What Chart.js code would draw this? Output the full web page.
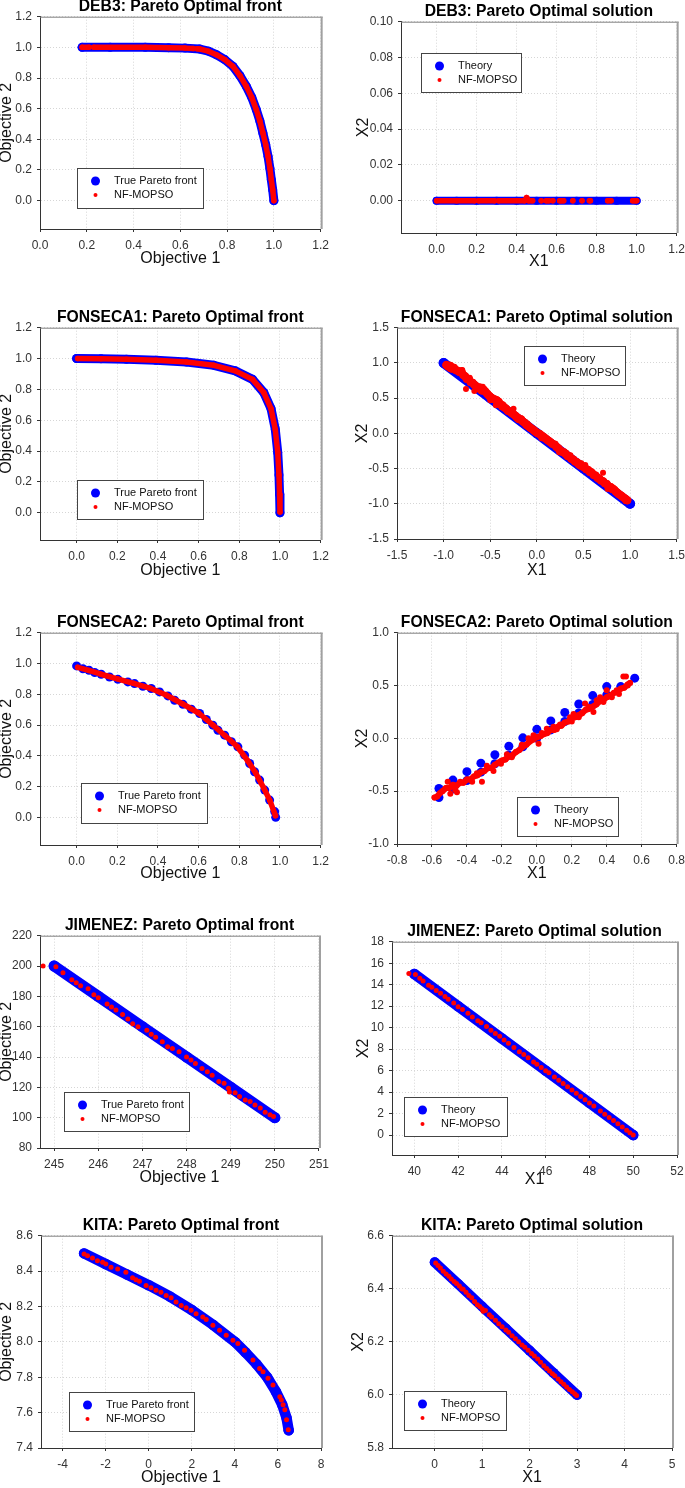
<!DOCTYPE html>
<html>
<head>
<meta charset="utf-8">
<script src="https://cdn.jsdelivr.net/npm/chart.js@4.4.0/dist/chart.umd.min.js"></script>
<style>
  body { margin: 0; background: #fff; }
  #page { position: relative; width: 685px; height: 1488px; overflow: hidden; background: #fff; }
  #page canvas { position: absolute; }
</style>
</head>
<body>
<div id="page"></div>
<script>
// ---- values ----
const deb3FrontTrue = [[0.18,1.0],[0.3,1.0],[0.45,1.0],[0.55,0.998],[0.62,0.995],[0.683,0.989],[0.72,0.975],[0.754,0.952],[0.79,0.92],[0.825,0.876],[0.855,0.815],[0.882,0.746],[0.905,0.675],[0.925,0.593],[0.94,0.52],[0.953,0.441],[0.965,0.365],[0.975,0.289],[0.983,0.21],[0.989,0.137],[0.995,0.07],[1.0,0.0]];
const deb3FrontNf = [[0.18,1.0],[0.21,1.0],[0.22,null],[0.23,1.0],[0.45,1.0],[0.55,0.998],[0.62,0.995],[0.655,0.992],[0.662,null],[0.672,0.991],[0.683,0.989],[0.72,0.975],[0.754,0.952],[0.79,0.92],[0.825,0.876],[0.855,0.815],[0.882,0.746],[0.905,0.675],[0.925,0.593],[0.94,0.52],[0.953,0.441],[0.965,0.365],[0.975,0.289],[0.983,0.21],[0.989,0.137],[0.995,0.07],[1.0,0.0]];

const deb3SolTheory = [[0,0],[0.1,0],[0.2,0],[0.3,0],[0.4,0],[0.5,0],[0.6,0],[0.7,0],[0.8,0],[0.9,0],[1.0,0]];
const deb3SolNf = [[0,0],[0.1,0],[0.19,0],[0.2,null],[0.21,0],[0.29,0],[0.3,null],[0.31,0],[0.44,0],[0.45,0.0018],[0.46,0],[0.48,0],[0.5,null],[0.523,0],[0.53,null],[0.548,0],[0.561,0],[0.57,null],[0.581,0],[0.6,null],[0.615,0],[0.623,0],[0.635,0],[0.65,null],[0.681,0],[0.7,null],[0.727,0],[0.74,null],[0.764,0],[0.769,0],[0.8,null],[0.855,0],[0.872,0],[0.9,null],[0.98,0],[0.992,0],[1.0,0]];

const fon1FrontTrue = [[0,1.0],[0.12,0.998],[0.245,0.995],[0.39,0.989],[0.54,0.977],[0.675,0.956],[0.78,0.92],[0.865,0.865],[0.92,0.78],[0.956,0.675],[0.977,0.54],[0.989,0.39],[0.995,0.245],[0.998,0.12],[1.0,0.0]];
const fon1FrontNf = [[0.005,1.0],[0.12,0.998],[0.245,0.995],[0.39,0.989],[0.54,0.977],[0.675,0.956],[0.78,0.92],[0.865,0.865],[0.92,0.78],[0.956,0.675],[0.977,0.54],[0.989,0.39],[0.995,0.245],[0.998,0.12],[1.0,0.005]];

const fon1SolTheory = [[-1,1],[-0.5,0.5],[0,0],[0.5,-0.5],[1,-1]];
const fon1SolNf = [[-0.97,0.97],[-0.95,0.95],[-0.93,0.96],[-0.91,0.92],[-0.89,0.93],[-0.87,0.9],[-0.85,0.89],[-0.83,0.87],[-0.81,0.88],[-0.79,0.83],[-0.77,0.81],[-0.75,0.77],[-0.73,0.77],[-0.71,0.73],[-0.69,0.72],[-0.67,0.69],[-0.65,0.67],[-0.63,0.64],[-0.61,0.65],[-0.59,0.61],[-0.57,0.62],[-0.55,0.59],[-0.53,0.56],[-0.51,0.53],[-0.49,0.51],[-0.47,0.49],[-0.45,0.48],[-0.43,0.47],[-0.41,0.45],[-0.39,0.41],[-0.37,0.4],[-0.35,0.37],[-0.33,0.35],[-0.31,0.32],[-0.29,0.31],[-0.27,0.29],[-0.25,0.27],[-0.23,0.25],[-0.21,0.22],[-0.19,0.2],[-0.17,0.2],[-0.15,0.17],[-0.13,0.15],[-0.11,0.12],[-0.09,0.1],[-0.07,0.08],[-0.05,0.06],[-0.03,0.04],[-0.01,0.02],[0.01,0.0],[0.03,-0.01],[0.05,-0.03],[0.07,-0.05],[0.09,-0.07],[0.11,-0.09],[0.13,-0.11],[0.15,-0.13],[0.17,-0.15],[0.19,-0.16],[0.21,-0.19],[0.23,-0.21],[0.25,-0.24],[0.27,-0.26],[0.29,-0.27],[0.31,-0.29],[0.33,-0.32],[0.35,-0.33],[0.37,-0.36],[0.39,-0.37],[0.41,-0.4],[0.43,-0.41],[0.45,-0.44],[0.47,-0.44],[0.49,-0.47],[0.51,-0.48],[0.53,-0.51],[0.55,-0.52],[0.57,-0.55],[0.59,-0.56],[0.61,-0.59],[0.63,-0.6],[0.65,-0.63],[0.67,-0.64],[0.69,-0.67],[0.71,-0.68],[0.73,-0.71],[0.75,-0.72],[0.77,-0.76],[0.79,-0.76],[0.81,-0.79],[0.83,-0.8],[0.85,-0.83],[0.87,-0.85],[0.89,-0.87],[0.91,-0.89],[0.93,-0.91],[0.95,-0.93],[0.97,-0.95]];
const fon1SolNfScatter = [[-0.93,0.91],[-0.8,0.9],[-0.76,0.63],[-0.72,0.79],[-0.67,0.6],[-0.6,0.6],[-0.58,0.66],[-0.5,0.47],[-0.44,0.4],[-0.38,0.37],[-0.25,0.35],[-0.2,0.24],[-0.1,0.14],[0.05,-0.07],[0.2,-0.15],[0.24,-0.27],[0.3,-0.3],[0.36,-0.31],[0.46,-0.47],[0.52,-0.45],[0.58,-0.53],[0.66,-0.66],[0.71,-0.56],[0.76,-0.79],[0.82,-0.77],[0.88,-0.88],[0.95,-0.96]];

const fon2FrontTrue = [[0,0.984],[0.031,0.966],[0.061,0.956],[0.089,0.941],[0.121,0.93],[0.162,0.912],[0.203,0.897],[0.252,0.88],[0.285,0.869],[0.326,0.852],[0.367,0.837],[0.408,0.815],[0.449,0.789],[0.482,0.761],[0.523,0.735],[0.564,0.703],[0.605,0.675],[0.638,0.636],[0.67,0.599],[0.695,0.566],[0.728,0.534],[0.761,0.491],[0.793,0.458],[0.826,0.404],[0.851,0.35],[0.875,0.296],[0.9,0.242],[0.925,0.177],[0.949,0.112],[0.974,0.037],[0.979,0.0]];
const fon2FrontNf = [[0.005,0.975],[0.06,0.955],[0.12,0.93],[0.2,0.9],[0.28,0.871],[0.36,0.84],[0.44,0.795],[0.52,0.738],[0.6,0.678],[0.67,0.6],[0.73,0.53],[0.79,0.46],[0.84,0.37],[0.88,0.29],[0.92,0.19],[0.95,0.11],[0.978,0.01]];

const fon2SolTheory = [[-0.56,-0.56],[-0.56,-0.475],[-0.48,-0.48],[-0.48,-0.395],[-0.4,-0.4],[-0.4,-0.315],[-0.32,-0.32],[-0.32,-0.235],[-0.24,-0.24],[-0.24,-0.155],[-0.16,-0.16],[-0.16,-0.075],[-0.08,-0.08],[-0.08,0.005],[0,0],[0,0.085],[0.08,0.08],[0.08,0.165],[0.16,0.16],[0.16,0.245],[0.24,0.24],[0.24,0.325],[0.32,0.32],[0.32,0.405],[0.4,0.41],[0.4,0.49],[0.48,0.49],[0.56,0.57]];
const fon2SolNf = [[-0.585,-0.56],[-0.57,-0.55],[-0.555,-0.52],[-0.54,-0.5],[-0.52,-0.47],[-0.5,-0.47],[-0.48,-0.44],[-0.46,-0.45],[-0.44,-0.42],[-0.42,-0.42],[-0.4,-0.39],[-0.38,-0.39],[-0.36,-0.36],[-0.34,-0.35],[-0.32,-0.32],[-0.3,-0.31],[-0.28,-0.28],[-0.26,-0.28],[-0.24,-0.25],[-0.22,-0.23],[-0.2,-0.21],[-0.18,-0.2],[-0.16,-0.17],[-0.14,-0.16],[-0.12,-0.13],[-0.1,-0.11],[-0.08,-0.08],[-0.06,-0.06],[-0.04,-0.03],[-0.02,-0.01],[0,0.01],[0.02,0.02],[0.04,0.04],[0.06,0.05],[0.08,0.08],[0.1,0.08],[0.12,0.11],[0.14,0.12],[0.16,0.15],[0.18,0.16],[0.2,0.19],[0.22,0.2],[0.24,0.22],[0.26,0.24],[0.28,0.27],[0.3,0.28],[0.32,0.3],[0.34,0.32],[0.36,0.35],[0.38,0.36],[0.4,0.39],[0.42,0.4],[0.44,0.43],[0.46,0.44],[0.48,0.47],[0.5,0.48],[0.52,0.51],[0.533,0.525]];
const fon2SolNfScatter = [[-0.51,-0.41],[-0.495,-0.525],[-0.467,-0.49],[-0.457,-0.51],[-0.438,-0.41],[-0.37,-0.41],[-0.343,-0.33],[-0.314,-0.41],[-0.286,-0.26],[-0.248,-0.31],[-0.205,-0.24],[-0.171,-0.15],[-0.143,-0.18],[-0.086,-0.06],[-0.048,0.0],[-0.019,0.03],[0.01,-0.05],[0.029,0.05],[0.057,0.09],[0.095,0.11],[0.114,0.085],[0.133,0.13],[0.19,0.2],[0.2,0.16],[0.21,0.23],[0.24,0.2],[0.257,0.236],[0.276,0.33],[0.295,0.3],[0.324,0.25],[0.343,0.36],[0.362,0.39],[0.381,0.345],[0.4,0.456],[0.415,0.4],[0.429,0.39],[0.457,0.456],[0.47,0.42],[0.495,0.585],[0.51,0.585],[0.52,0.5]];

const jimFrontTrue = [[245,200],[246,180],[247,160],[248,140],[249,120],[250,100]];
const jimFrontNf = [[244.75,200],[245.04,199.5],[245.2,195.6],[245.4,191],[245.5,189],[245.6,187],[245.77,185],[245.9,181],[246.0,179],[246.2,175],[246.3,173],[246.4,171],[246.55,168],[246.67,165],[246.78,162],[246.9,160],[247.1,157.7],[247.2,155],[247.3,153],[247.45,150],[247.57,146.7],[247.68,145.6],[247.83,143.4],[248.0,140],[248.1,138],[248.2,135.8],[248.35,132.5],[248.47,130.3],[248.58,128],[248.73,123.8],[248.85,122.7],[248.95,119.4],[248.97,117],[249.1,116.5],[249.2,114],[249.33,111.7],[249.44,110.6],[249.55,108.4],[249.67,106.3],[249.78,103.6],[249.89,101.9],[249.97,100.8]];

const jimSolTheory = [[40,15],[42,12],[44,9],[46,6],[48,3],[50,0]];
const jimSolNf = [[39.75,15.05],[40.05,14.95],[40.25,14.6],[40.4,14.35],[40.65,13.95],[40.8,13.75],[41.0,13.45],[41.2,13.2],[41.4,12.9],[41.55,12.65],[41.8,12.3],[42.0,11.95],[42.2,11.7],[42.45,11.35],[42.65,11.0],[42.9,10.65],[43.05,10.45],[43.3,10.1],[43.5,9.75],[43.7,9.45],[43.9,9.2],[44.1,8.85],[44.3,8.55],[44.55,8.15],[44.8,7.75],[45.0,7.5],[45.2,7.2],[45.45,6.8],[45.6,6.6],[45.8,6.3],[46.0,6.0],[46.15,5.8],[46.4,5.4],[46.6,5.1],[46.8,4.8],[47.0,4.5],[47.2,4.2],[47.4,3.9],[47.6,3.6],[47.8,3.3],[48.0,3.0],[48.2,2.7],[48.5,2.25],[48.7,1.95],[48.9,1.65],[49.1,1.35],[49.3,1.05],[49.5,0.75],[49.7,0.45],[49.85,0.22],[50.0,0.02]];

const kitaFrontTrue = [[-3,8.5],[-2,8.44],[-1,8.38],[0,8.32],[1,8.255],[2,8.18],[3,8.095],[4,8.0],[4.5,7.94],[5,7.875],[5.5,7.8],[5.9,7.72],[6.2,7.645],[6.4,7.57],[6.5,7.5]];
const kitaFrontNf = [[-3.0,8.497],[-2.84,8.487],[-2.61,8.474],[-2.38,8.459],[-2.14,8.45],[-1.99,8.44],[-1.75,8.422],[-1.44,8.412],[-1.06,8.394],[-0.75,8.362],[-0.59,8.351],[-0.43,8.343],[-0.12,8.319],[0.11,8.306],[0.34,8.291],[0.57,8.281],[0.81,8.262],[1.04,8.249],[1.27,8.225],[1.51,8.206],[1.74,8.193],[1.97,8.178],[2.2,8.159],[2.51,8.141],[2.67,8.126],[2.98,8.094],[3.29,8.066],[3.6,8.037],[3.91,8.009],[4.14,7.99],[4.45,7.953],[4.84,7.897],[5.15,7.85],[5.31,7.831],[5.54,7.794],[5.77,7.756],[6.09,7.69],[6.16,7.672],[6.24,7.644],[6.32,7.616],[6.4,7.559],[6.48,7.503]];

const kitaSolTheory = [[0,6.5],[0.5,6.417],[1,6.333],[1.5,6.25],[2,6.167],[2.5,6.083],[3,6.0]];
const kitaSolNf = [[0.02,6.497],[0.07,6.488],[0.12,6.478],[0.18,6.466],[0.24,6.456],[0.3,6.447],[0.35,6.437],[0.41,6.427],[0.46,6.42],[0.52,6.41],[0.57,6.4],[0.6,6.398],[0.66,6.387],[0.72,6.375],[0.78,6.366],[0.84,6.352],[0.9,6.34],[0.95,6.333],[1.0,6.325],[1.02,6.315],[1.07,6.318],[1.15,6.302],[1.2,6.294],[1.28,6.281],[1.35,6.268],[1.42,6.257],[1.5,6.245],[1.56,6.236],[1.63,6.223],[1.7,6.212],[1.77,6.2],[1.84,6.188],[1.9,6.18],[1.97,6.168],[2.04,6.156],[2.1,6.147],[2.17,6.135],[2.23,6.123],[2.3,6.11],[2.36,6.1],[2.42,6.09],[2.48,6.08],[2.53,6.072],[2.6,6.06],[2.66,6.05],[2.72,6.04],[2.78,6.03],[2.84,6.02],[2.9,6.012],[2.95,6.004],[2.99,5.998]];

// tick labels
const ticksUnit = [0, 0.2, 0.4, 0.6, 0.8, 1.0, 1.2];
const deb3SolYTicks = [0, 0.02, 0.04, 0.06, 0.08, 0.1];
const fon1SolTicks = [-1.5, -1, -0.5, 0, 0.5, 1, 1.5];
const fon2SolXTicks = [-0.8, -0.6, -0.4, -0.2, 0, 0.2, 0.4, 0.6, 0.8];
const fon2SolYTicks = [-1, -0.5, 0, 0.5, 1];
const jimFrontXTicks = [245, 246, 247, 248, 249, 250, 251];
const jimFrontYTicks = [80, 100, 120, 140, 160, 180, 200, 220];
const jimSolXTicks = [40, 42, 44, 46, 48, 50, 52];
const jimSolYTicks = [0, 2, 4, 6, 8, 10, 12, 14, 16, 18];
const kitaFrontXTicks = [-4, -2, 0, 2, 4, 6, 8];
const kitaFrontYTicks = [7.4, 7.6, 7.8, 8.0, 8.2, 8.4, 8.6];
const kitaSolXTicks = [0, 1, 2, 3, 4, 5];
const kitaSolYTicks = [5.8, 6.0, 6.2, 6.4, 6.6];

const frontLabels = ['True Pareto front', 'NF-MOPSO'];
const solLabels = ['Theory', 'NF-MOPSO'];

// panels: text, axis ranges (min, max, ticks, decimals), series
const panels = [
  { title: 'DEB3: Pareto Optimal front', xTitle: 'Objective 1', yTitle: 'Objective 2', labels: frontLabels,
    x: [0, 1.2, ticksUnit, 1], y: [-0.185, 1.2, ticksUnit, 1], theory: deb3FrontTrue, nf: deb3FrontNf, theoryLine: true, nfLine: true },
  { title: 'DEB3: Pareto Optimal solution', xTitle: 'X1', yTitle: 'X2', labels: solLabels,
    x: [-0.178, 1.2, ticksUnit, 1], y: [-0.018, 0.1, deb3SolYTicks, 2], theory: deb3SolTheory, nf: deb3SolNf, theoryLine: true, nfLine: true, theoryWidth: 8 },
  { title: 'FONSECA1: Pareto Optimal front', xTitle: 'Objective 1', yTitle: 'Objective 2', labels: frontLabels,
    x: [-0.18, 1.2, ticksUnit, 1], y: [-0.177, 1.2, ticksUnit, 1], theory: fon1FrontTrue, nf: fon1FrontNf, theoryLine: true, nfLine: true },
  { title: 'FONSECA1: Pareto Optimal solution', xTitle: 'X1', yTitle: 'X2', labels: solLabels,
    x: [-1.5, 1.5, fon1SolTicks, 1], y: [-1.5, 1.5, fon1SolTicks, 1], theory: fon1SolTheory, nf: fon1SolNf, nfScatter: fon1SolNfScatter, theoryLine: true, nfLine: true, nfWidth: 8, theoryWidth: 10 },
  { title: 'FONSECA2: Pareto Optimal front', xTitle: 'Objective 1', yTitle: 'Objective 2', labels: frontLabels,
    x: [-0.18, 1.2, ticksUnit, 1], y: [-0.18, 1.2, ticksUnit, 1], theory: fon2FrontTrue, nf: fon2FrontNf, theoryLine: false, nfLine: true },
  { title: 'FONSECA2: Pareto Optimal solution', xTitle: 'X1', yTitle: 'X2', labels: solLabels,
    x: [-0.8, 0.8, fon2SolXTicks, 1], y: [-1, 1, fon2SolYTicks, 1], theory: fon2SolTheory, nf: fon2SolNf, nfScatter: fon2SolNfScatter, theoryLine: false, nfLine: true, nfWidth: 6 },
  { title: 'JIMENEZ: Pareto Optimal front', xTitle: 'Objective 1', yTitle: 'Objective 2', labels: frontLabels,
    x: [244.68, 251, jimFrontXTicks, 0], y: [80, 220, jimFrontYTicks, 0], theory: jimFrontTrue, nf: jimFrontNf, theoryLine: true, nfLine: false, theoryWidth: 11 },
  { title: 'JIMENEZ: Pareto Optimal solution', xTitle: 'X1', yTitle: 'X2', labels: solLabels,
    x: [38.98, 52, jimSolXTicks, 0], y: [-1.85, 18, jimSolYTicks, 0], theory: jimSolTheory, nf: jimSolNf, theoryLine: true, nfLine: false, theoryWidth: 10.5 },
  { title: 'KITA: Pareto Optimal front', xTitle: 'Objective 1', yTitle: 'Objective 2', labels: frontLabels,
    x: [-5, 8, kitaFrontXTicks, 0], y: [7.4, 8.6, kitaFrontYTicks, 1], theory: kitaFrontTrue, nf: kitaFrontNf, theoryLine: true, nfLine: false, theoryWidth: 10.5 },
  { title: 'KITA: Pareto Optimal solution', xTitle: 'X1', yTitle: 'X2', labels: solLabels,
    x: [-0.9, 5, kitaSolXTicks, 0], y: [5.8, 6.6, kitaSolYTicks, 1], theory: kitaSolTheory, nf: kitaSolNf, theoryLine: true, nfLine: false, theoryWidth: 10 }
];

// page layout: plot area [left, top, right, bottom], y title centre x, x title centre y, legend box
const layout = [
  { area: [40, 16, 321, 229],    yTitleX: 7,   xTitleY: 259,  legend: [77, 168, 126, 40] },
  { area: [401, 21, 677, 233],   yTitleX: 364, xTitleY: 262,  legend: [421, 53, 100, 39] },
  { area: [40, 327, 321, 540],   yTitleX: 7,   xTitleY: 571,  legend: [77, 480, 126, 39] },
  { area: [397, 327, 677, 539],  yTitleX: 363, xTitleY: 571,  legend: [524, 346, 101, 39] },
  { area: [40, 632, 321, 845],   yTitleX: 7,   xTitleY: 874,  legend: [81, 783, 126, 40] },
  { area: [397, 632, 677, 844],  yTitleX: 363, xTitleY: 874,  legend: [517, 797, 101, 39] },
  { area: [40, 935, 321, 1148],  yTitleX: 7,   xTitleY: 1178, legend: [64, 1092, 125, 39] },
  { area: [392, 941, 677, 1155], yTitleX: 364, xTitleY: 1180, legend: [404, 1097, 103, 39] },
  { area: [41, 1235, 321, 1448], yTitleX: 7,   xTitleY: 1478, legend: [69, 1392, 125, 39] },
  { area: [392, 1235, 672, 1448],yTitleX: 359, xTitleY: 1478, legend: [404, 1391, 102, 39] }
];

const BLUE = '#0000ff';
const RED = '#ff0000';
const FONT = '"Liberation Sans", Arial, Helvetica, sans-serif';
Chart.defaults.font.family = FONT;

const toPts = arr => arr.map(p => ({ x: p[0], y: p[1] }));

// grey frame on top / right of the plot like the original
const framePlugin = {
  id: 'frame',
  beforeDatasetsDraw(chart) {
    const { ctx, chartArea: a } = chart;
    ctx.save();
    ctx.strokeStyle = '#808080';
    ctx.lineWidth = 1;
    ctx.beginPath(); ctx.moveTo(a.left, a.top + 0.5); ctx.lineTo(a.right + 2, a.top + 0.5); ctx.stroke();
    ctx.strokeStyle = '#a0a0a0';
    ctx.lineWidth = 2;
    ctx.beginPath(); ctx.moveTo(a.right + 1, a.top); ctx.lineTo(a.right + 1, a.bottom); ctx.stroke();
    ctx.restore();
  }
};

// boxed legend inside the plot (first two datasets)
const boxLegend = {
  id: 'boxLegend',
  afterDraw(chart, args, opts) {
    const { ctx } = chart;
    const { x, y, w, h } = opts;
    ctx.save();
    ctx.fillStyle = '#fff';
    ctx.fillRect(x, y, w, h);
    ctx.strokeStyle = '#444';
    ctx.lineWidth = 1;
    ctx.strokeRect(x + 0.5, y + 0.5, w, h);
    const rows = [13, 27], sizes = [4.5, 2];
    chart.data.datasets.slice(0, 2).forEach((ds, i) => {
      const cy = y + rows[i];
      ctx.fillStyle = ds.backgroundColor;
      ctx.beginPath(); ctx.arc(x + 18.5, cy, sizes[i], 0, Math.PI * 2); ctx.fill();
      ctx.fillStyle = '#111';
      ctx.font = '11px ' + FONT;
      ctx.textAlign = 'left';
      ctx.textBaseline = 'middle';
      ctx.fillText(ds.label, x + 37, cy);
    });
    ctx.restore();
  }
};

function axis(range, fit, title) {
  const [min, max, ticks, dec] = range;
  return {
    type: 'linear', min, max,
    afterBuildTicks: s => { s.ticks = ticks.map(v => ({ value: v })); },
    afterFit: fit,
    ticks: { autoSkip: false, maxRotation: 0, color: '#333', font: { size: 12 },
             callback: v => Number(v).toFixed(dec) },
    grid: { color: '#d6d6d6', lineWidth: 1, tickColor: '#333', tickLength: 3 },
    border: { display: true, color: '#333', width: 1, dash: [1, 2] },
    title: { display: true, text: title, color: '#111', font: { size: 16, lineHeight: 1 }, padding: 0 }
  };
}

const page = document.getElementById('page');

panels.forEach((p, i) => {
  const L = layout[i];
  const [l, t, r, b] = L.area;
  const cl = Math.round(L.yTitleX - 8);
  const ct = t - 17;
  const cb = Math.round(L.xTitleY + 8);
  const cw = r + 14 - cl;
  const ch = cb - ct;
  const yW = l - cl;
  const xH = cb - b;

  const canvas = document.createElement('canvas');
  canvas.width = cw; canvas.height = ch;
  canvas.style.left = cl + 'px'; canvas.style.top = ct + 'px';
  canvas.style.width = cw + 'px'; canvas.style.height = ch + 'px';
  page.appendChild(canvas);

  const xAxis = axis(p.x, s => { s.height = xH; }, p.xTitle);
  xAxis.ticks.padding = 6;
  const yAxis = axis(p.y, s => { s.width = yW; }, p.yTitle);
  yAxis.ticks.padding = 5;

  const nfWidth = p.nfWidth || 5.5;
  const thWidth = p.theoryWidth || 9;
  const datasets = [
    { label: p.labels[0], data: toPts(p.theory), backgroundColor: BLUE, borderColor: BLUE,
      pointRadius: p.theoryLine ? thWidth / 2 : 4.5, pointHoverRadius: 4.5, pointBorderWidth: 0,
      showLine: p.theoryLine, borderWidth: thWidth, borderCapStyle: 'round', borderJoinStyle: 'round',
      clip: false, order: 3 },
    { label: p.labels[1], data: toPts(p.nf), backgroundColor: RED, borderColor: RED,
      pointRadius: p.nfLine ? nfWidth / 2 : 2.5, pointHoverRadius: 2.5, pointBorderWidth: 0,
      showLine: p.nfLine, borderWidth: nfWidth, borderCapStyle: 'round', borderJoinStyle: 'round',
      clip: false, order: 2 }
  ];
  if (p.nfScatter) {
    datasets.push({ label: p.labels[1], data: toPts(p.nfScatter), backgroundColor: RED, borderColor: RED,
      pointRadius: 3, pointBorderWidth: 0, showLine: false, clip: false, order: 1 });
  }

  new Chart(canvas, {
    type: 'scatter',
    data: { datasets },
    options: {
      responsive: false,
      animation: false,
      events: [],
      layout: { padding: { left: 0, top: 0, right: 14, bottom: 0 } },
      plugins: {
        legend: { display: false },
        tooltip: { enabled: false },
        title: { display: true, text: p.title, fullSize: false, color: '#000',
                 font: { size: 15.7, weight: 'bold', lineHeight: 1 }, padding: { top: 0, bottom: 2 } },
        boxLegend: { x: L.legend[0] - cl, y: L.legend[1] - ct, w: L.legend[2], h: L.legend[3] }
      },
      scales: { x: xAxis, y: yAxis }
    },
    plugins: [framePlugin, boxLegend]
  });
});
</script>
</body>
</html>
